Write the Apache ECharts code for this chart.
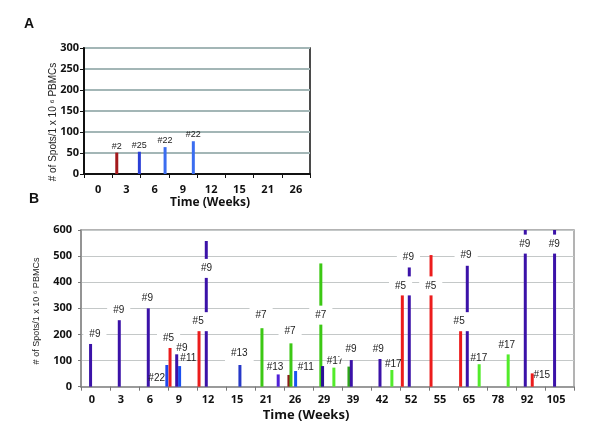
<!DOCTYPE html>
<html><head><meta charset="utf-8">
<script src="https://cdn.jsdelivr.net/npm/echarts@6/dist/echarts.min.js"></script>
<style>html,body{margin:0;padding:0;background:#fff}#c{width:600px;height:440px}</style>
</head><body><div id="c"></div>
<script>
// ---------- Panel A data ----------
const categoriesA = ['0','3','6','9','12','15','21','26'];
const timeA = [1.16, 1.96, 2.87, 3.87];           // x, in category-band units
const valuesA = [51, 53, 64, 78];
const peptidesA = ['#2','#25','#22','#22'];
const yTicksA = [0, 50, 100, 150, 200, 250, 300];

// ---------- Panel B data ----------
const categoriesB = ['0','3','6','9','12','15','21','26','29','39','42','52','55','65','78','92','105'];
const timeB = [0.33, 1.32, 2.32, 2.96, 3.07, 3.30, 3.40, 4.07, 4.32, 5.48, 6.24, 6.80, 7.17, 7.24, 7.40,
               8.27, 8.33, 8.72, 9.24, 9.32, 10.31, 10.72, 11.08, 11.32, 12.07, 13.09, 13.32, 13.73,
               14.73, 15.32, 15.56, 16.33];
const valuesB = [166, 258, 300, 83, 149, 124, 79, 216, 558, 83, 224, 47, 45, 166, 60,
                 472, 79, 73, 77, 102, 106, 64, 351, 457, 504, 213, 463, 86,
                 137, 640, 51, 640];
const labelTextB = ['#9','#9','#9','#22','#5','#9','#11','#5','#9','#13','#7','#13','#7','#11','#7',
                    '#17','#9','#9','#17','#5','#9','#5','#5','#9','#17','#17','#9','#15','#9'];
const labelTimeB = [0.48, 1.30, 2.29, 2.61, 3.02, 3.48, 3.70, 4.04, 4.33, 5.46, 6.21, 6.69, 7.21, 7.75, 8.27,
                    8.76, 9.31, 10.25, 10.77, 11.02, 11.29, 12.06, 13.04, 13.28, 13.72, 14.68, 15.30, 15.89, 16.32];
const labelValueB = [200, 291, 338, 32, 185, 147, 109, 249, 453, 128, 274, 73, 211, 74, 274,
                     98, 144, 144, 86, 386, 494, 386, 249, 504, 109, 160, 546, 45, 546];
const yTicksB = [0, 100, 200, 300, 400, 500, 600];

// ---------- styles ----------
const colorsA = ['#a3191c', '#2a3fd6', '#3b6df0', '#3b6df0'];
const P = '#3b12a8', R = '#ec1c1c', G = '#3cc814', LG = '#52ec2a';
const colorsB = [P, P, P, '#1f48ee', R, P, '#1a50f0', R, P, '#2638c8', G, '#5020d8', '#8c1a1a', G, '#1a55f0',
                 G, '#2c0f96', LG, '#2ea818', P, P, LG, R, P, R, R, P, LG,
                 LG, P, R, P];
// labels drawn without white box (they sit beside bars)
const plainLabelB = new Set([3, 5, 6, 11, 13, 15, 18, 24, 27]);

const tickFont = { fontFamily: 'Open Sans', fontWeight: 'bold', fontSize: 11, color: '#111' };

const chart = echarts.init(document.getElementById('c'), null, { renderer: 'canvas' });

const option = {
  backgroundColor: '#fff',
  animation: false,
  grid: [
    { left: 84, right: 290, top: 48, bottom: 266, show: true, borderColor: '#111', borderWidth: 1.5 },
    { left: 81, right: 26, top: 230, bottom: 53.3, show: true, borderColor: '#9a9a9a', borderWidth: 1.5 }
  ],
  xAxis: [
    { gridIndex: 0, type: 'category', data: categoriesA, position: 'bottom',
      axisLine: { lineStyle: { color: '#111', width: 2 } },
      axisTick: { show: true, interval: 0, length: 4, lineStyle: { color: '#111', width: 1 } },
      axisLabel: Object.assign({ interval: 0, margin: 10 }, tickFont),
      splitLine: { show: false } },
    { gridIndex: 0, type: 'value', min: 0, max: categoriesA.length, show: false },
    { gridIndex: 1, type: 'category', data: categoriesB, position: 'bottom',
      axisLine: { lineStyle: { color: '#8a8a8a', width: 1.5 } },
      axisTick: { show: true, interval: 0, length: 4, lineStyle: { color: '#777', width: 1 } },
      axisLabel: Object.assign({ interval: 0, margin: 8, padding: [0, 7, 0, 0] }, tickFont),
      splitLine: { show: false } },
    { gridIndex: 1, type: 'value', min: 0, max: categoriesB.length, show: false }
  ],
  yAxis: [
    { gridIndex: 0, type: 'value', min: yTicksA[0], max: yTicksA[yTicksA.length - 1],
      interval: yTicksA[1] - yTicksA[0],
      axisLine: { show: true, lineStyle: { color: '#111', width: 2 } },
      axisTick: { show: true, length: 4, lineStyle: { color: '#111' } },
      axisLabel: Object.assign({ margin: 5 }, tickFont),
      splitLine: { show: true, lineStyle: { color: '#a3b6b6', width: 2 } } },
    { gridIndex: 1, type: 'value', min: yTicksB[0], max: yTicksB[yTicksB.length - 1],
      interval: yTicksB[1] - yTicksB[0],
      axisLine: { show: true, lineStyle: { color: '#8a8a8a', width: 1.5 } },
      axisTick: { show: true, length: 3, lineStyle: { color: '#777' } },
      axisLabel: Object.assign({ margin: 9 }, tickFont),
      splitLine: { show: true, lineStyle: { color: '#c4c8c8', width: 1.2 } } }
  ],
  series: [
    { type: 'bar', xAxisIndex: 1, yAxisIndex: 0, barWidth: 3, z: 2,
      data: timeA.map((t, i) => ({ value: [t, valuesA[i]], itemStyle: { color: colorsA[i] },
        label: { show: true, position: 'top', distance: 2, formatter: peptidesA[i],
          fontFamily: 'Liberation Sans', fontSize: 9, color: '#222' } })) },
    { type: 'bar', xAxisIndex: 3, yAxisIndex: 1, barWidth: 3, z: 2, clip: true,
      data: timeB.map((t, i) => ({ value: [t, valuesB[i]], itemStyle: { color: colorsB[i] } })) },
    { type: 'scatter', xAxisIndex: 3, yAxisIndex: 1, z: 5, symbolSize: 1,
      itemStyle: { color: 'rgba(0,0,0,0)' }, silent: true,
      label: { show: true, position: 'inside', formatter: '{b}', fontFamily: 'Liberation Sans',
        fontSize: 10, color: '#222', opacity: 1, lineHeight: 13, backgroundColor: '#fff', padding: [3, 6] },
      labelLayout: { hideOverlap: false },
      data: labelTimeB.map((t, i) => {
        const d = { name: labelTextB[i], value: [t, labelValueB[i]] };
        if (plainLabelB.has(i)) d.label = { backgroundColor: 'transparent', padding: 0 };
        return d;
      }) }
  ],
  graphic: [
    { type: 'text', left: 24, top: 17, style: { text: 'A', font: 'bold 14px "Liberation Sans"', fill: '#111' } },
    { type: 'text', left: 29, top: 192, style: { text: 'B', font: 'bold 14px "Liberation Sans"', fill: '#111' } },
    { type: 'text', x: 53, y: 122, rotation: Math.PI / 2,
      style: { text: '# of Spots/1 x 10 \u2076 PBMCs', font: '10px "Liberation Sans"', fill: '#222',
        align: 'center', verticalAlign: 'middle' } },
    { type: 'text', x: 37, y: 311, rotation: Math.PI / 2,
      style: { text: '# of Spots/1 x 10 \u2076 PBMCs', font: '9px "Liberation Sans"', fill: '#222',
        align: 'center', verticalAlign: 'middle' } },
    { type: 'text', x: 210, y: 203,
      style: { text: 'Time (Weeks)', font: 'bold 12px "Open Sans"', fill: '#111',
        align: 'center', verticalAlign: 'middle' } },
    { type: 'text', x: 306, y: 415,
      style: { text: 'Time (Weeks)', font: 'bold 13px "Open Sans"', fill: '#111',
        align: 'center', verticalAlign: 'middle' } }
  ]
};
chart.setOption(option);
</script>
</body></html>
